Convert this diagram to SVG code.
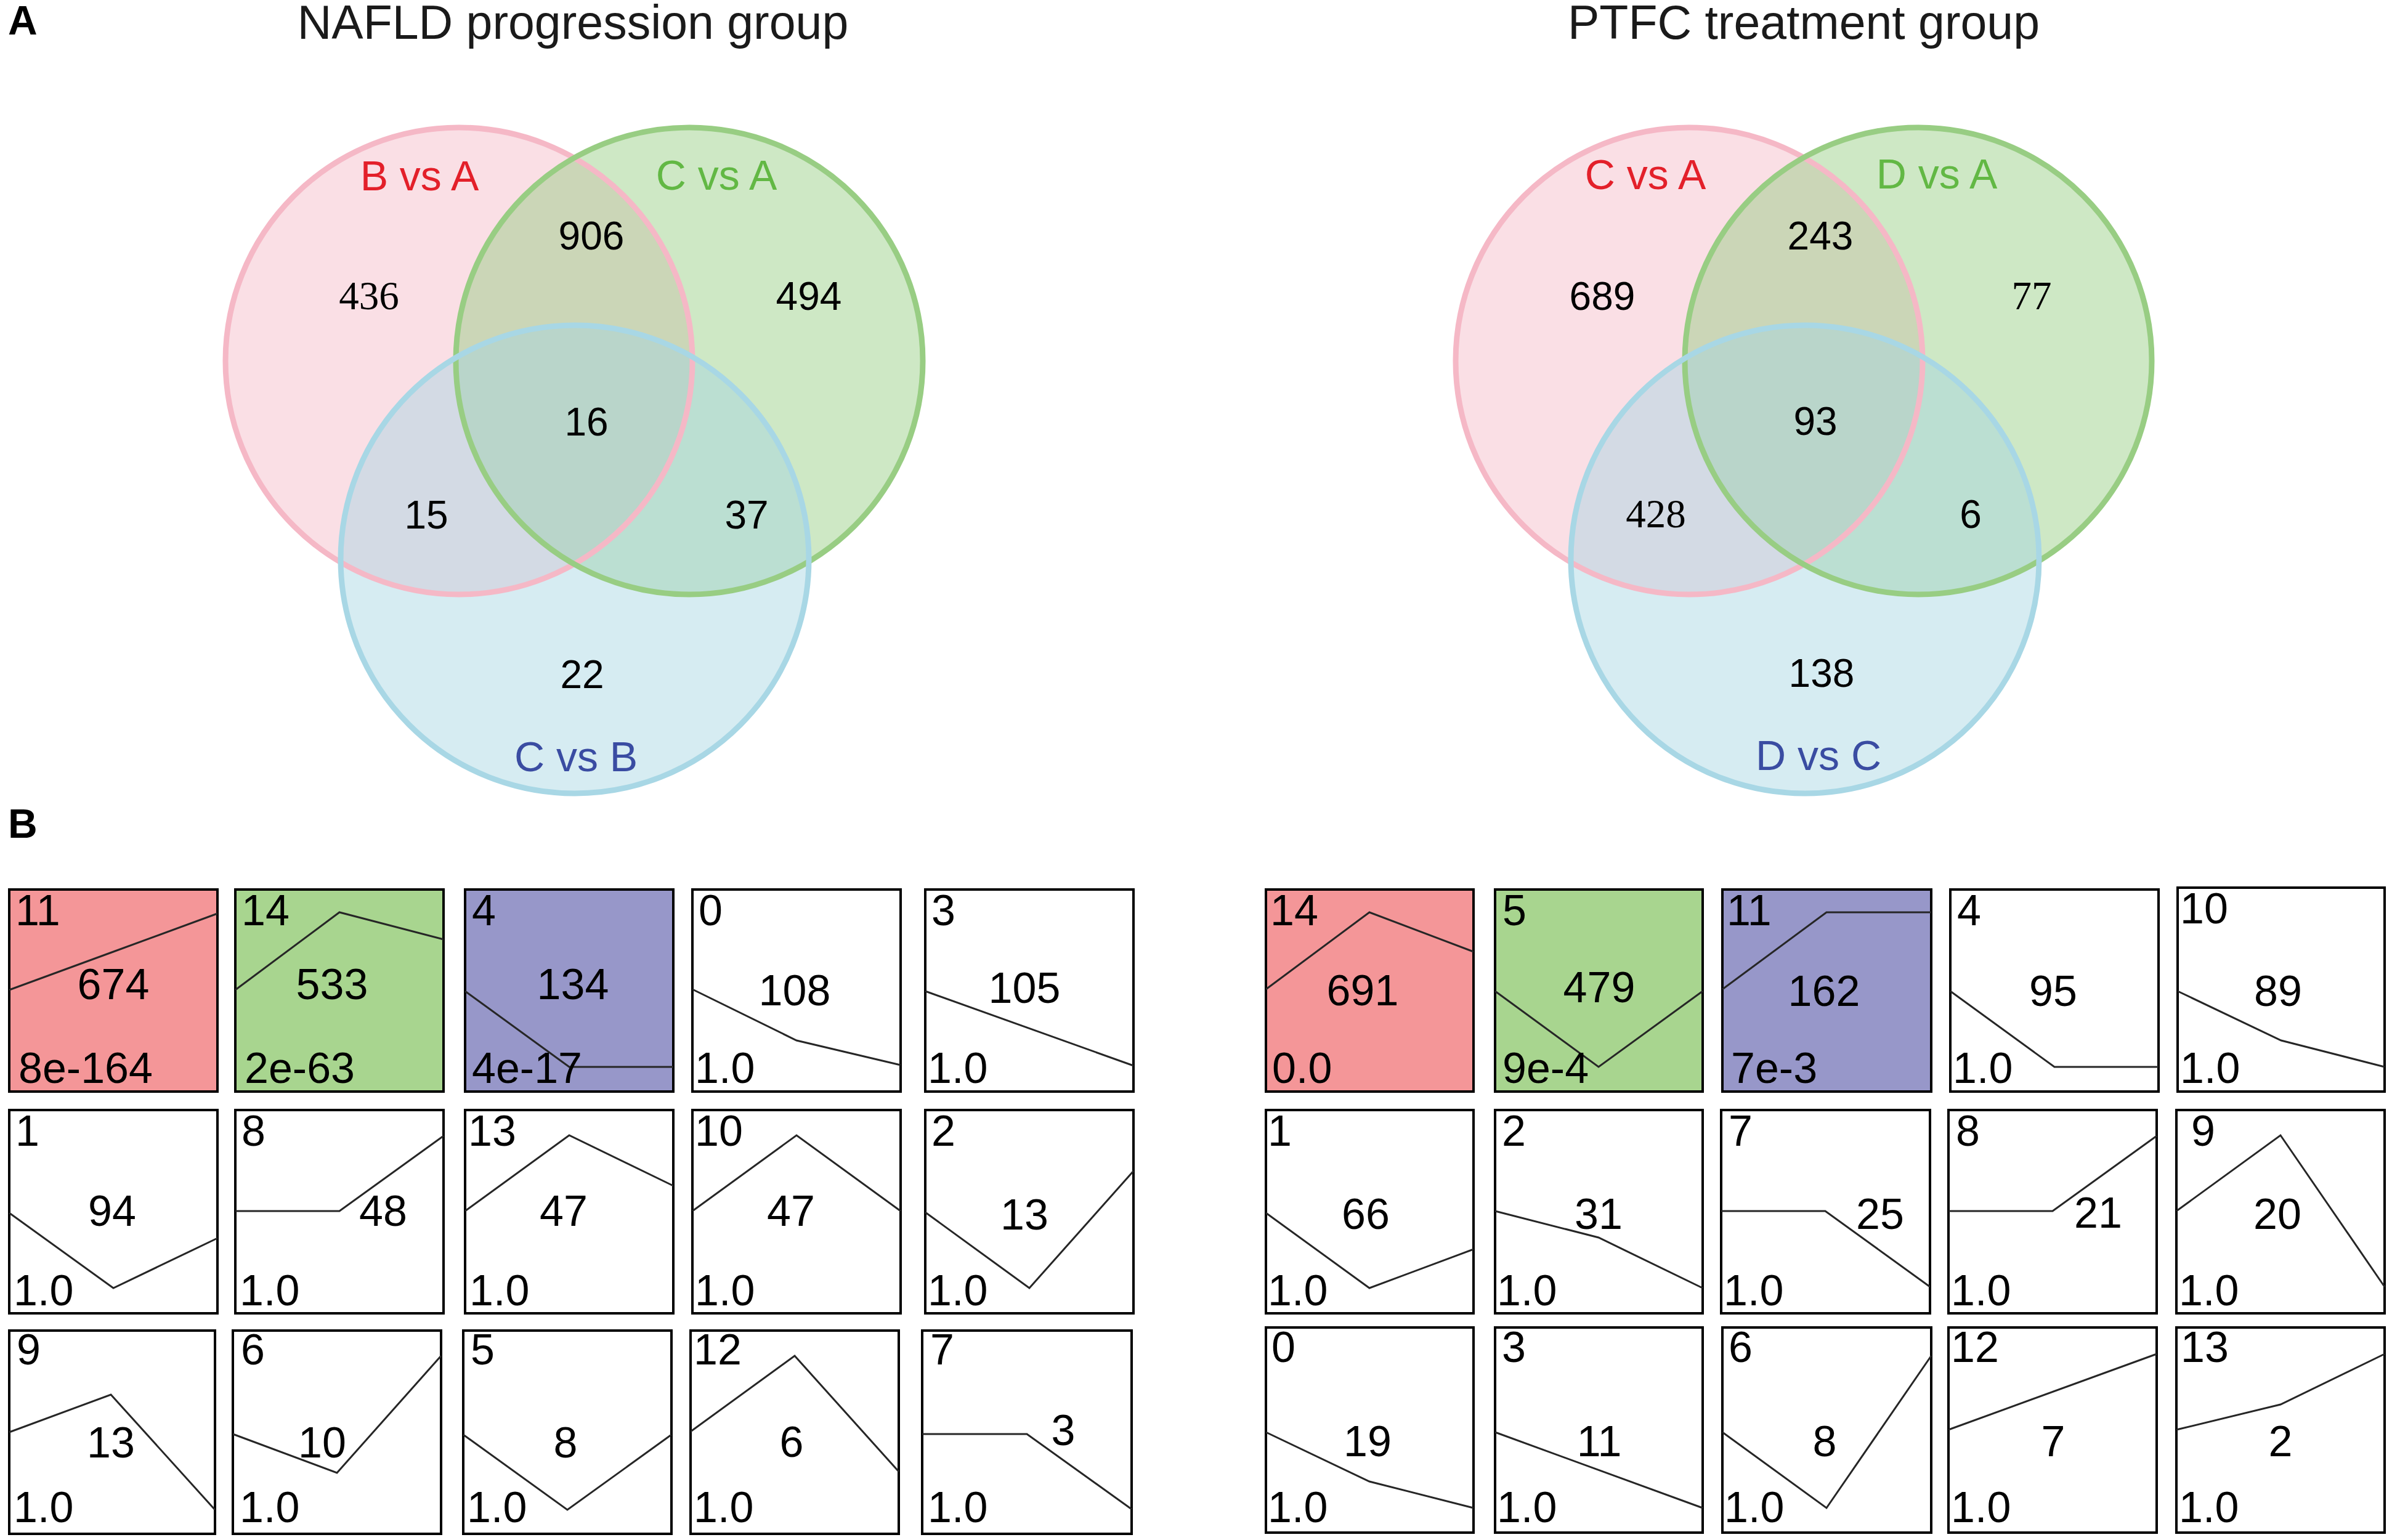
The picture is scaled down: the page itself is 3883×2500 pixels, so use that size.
<svg xmlns="http://www.w3.org/2000/svg" width="3883" height="2500" viewBox="0 0 3883 2500">
<style>
text{font-family:"Liberation Sans",Arial,Helvetica,sans-serif}
.title{font-size:77px;fill:#1a1a1a;text-anchor:middle}
.plab{font-size:66px;font-weight:bold;fill:#000}
.num{font-size:64px;fill:#000;text-anchor:middle}
.nums{font-family:"Liberation Serif","Times New Roman",serif;font-size:65px;fill:#000;text-anchor:middle}
.lab{font-size:68px;text-anchor:middle}
.red{fill:#e3202a}.grn{fill:#62b844}.blu{fill:#3a4ca2}
.fp{fill:#f5b7c5;fill-opacity:.45}.fg{fill:#92cc7e;fill-opacity:.45}.fb{fill:#a4d5e2;fill-opacity:.45}
.sp{fill:none;stroke:#f5b8c6;stroke-width:9}.sg{fill:none;stroke:#98cd83;stroke-width:9}.sb{fill:none;stroke:#a8d7e5;stroke-width:9}
.box{stroke:#000;stroke-width:4;fill:#fff}
.br{fill:#f49698}.bg{fill:#a8d58f}.bv{fill:#9797c9}
.prof{fill:none;stroke:#262626;stroke-width:3}
.bt{font-size:70px;fill:#000}
.bc{font-size:70px;fill:#000;text-anchor:middle}
</style>

<g id="panel-labels">
<text class="plab" x="13" y="56">A</text>
<text class="plab" x="13" y="1360">B</text>
</g>

<g id="venn-left">
<text class="title" x="930" y="63">NAFLD progression group</text>
<circle class="fp" cx="745" cy="586" r="379"/>
<circle class="fg" cx="1119" cy="586" r="379"/>
<circle class="fb" cx="933" cy="908" r="380"/>
<circle class="sp" cx="745" cy="586" r="379"/>
<circle class="sg" cx="1119" cy="586" r="379"/>
<circle class="sb" cx="933" cy="908" r="380"/>
<text class="lab red" x="681" y="309">B vs A</text>
<text class="lab grn" x="1163" y="308">C vs A</text>
<text class="lab blu" x="935" y="1252">C vs B</text>
<text class="nums" x="599" y="502">436</text>
<text class="num" x="960" y="405">906</text>
<text class="num" x="1313" y="503">494</text>
<text class="num" x="952" y="707">16</text>
<text class="num" x="692" y="858">15</text>
<text class="num" x="1212" y="858">37</text>
<text class="num" x="945" y="1117">22</text>
</g>

<g id="venn-right">
<text class="title" x="2928" y="63">PTFC treatment group</text>
<circle class="fp" cx="2742" cy="586" r="379"/>
<circle class="fg" cx="3114" cy="586" r="379"/>
<circle class="fb" cx="2930" cy="908" r="380"/>
<circle class="sp" cx="2742" cy="586" r="379"/>
<circle class="sg" cx="3114" cy="586" r="379"/>
<circle class="sb" cx="2930" cy="908" r="380"/>
<text class="lab red" x="2671" y="307">C vs A</text>
<text class="lab grn" x="3144" y="306">D vs A</text>
<text class="lab blu" x="2952" y="1250">D vs C</text>
<text class="num" x="2601" y="503">689</text>
<text class="num" x="2955" y="405">243</text>
<text class="nums" x="3298" y="502">77</text>
<text class="num" x="2947" y="706">93</text>
<text class="nums" x="2688" y="856">428</text>
<text class="num" x="3199" y="857">6</text>
<text class="num" x="2957" y="1115">138</text>
</g>

<g id="clusters-left">
<g id="L-11"><rect class="box br" x="15" y="1444" width="338" height="328"/><polyline class="prof" points="15,1607 184,1545 353,1483"/><text class="bt" x="25" y="1502">11</text><text class="bc" x="184" y="1622">674</text><text class="bt" x="30" y="1758">8e-164</text></g>
<g id="L-14"><rect class="box bg" x="382" y="1444" width="338" height="328"/><polyline class="prof" points="382,1607 551,1481 720,1525"/><text class="bt" x="392" y="1502">14</text><text class="bc" x="539" y="1622">533</text><text class="bt" x="397" y="1758">2e-63</text></g>
<g id="L-4"><rect class="box bv" x="755" y="1444" width="338" height="328"/><polyline class="prof" points="755,1609 924,1732 1093,1732"/><text class="bt" x="766" y="1502">4</text><text class="bc" x="930" y="1622">134</text><text class="bt" x="766" y="1758">4e-17</text></g>
<g id="L-0"><rect class="box" x="1124" y="1444" width="338" height="328"/><polyline class="prof" points="1124,1606 1293,1689 1462,1729"/><text class="bt" x="1134" y="1502">0</text><text class="bc" x="1290" y="1632">108</text><text class="bt" x="1128" y="1758">1.0</text></g>
<g id="L-3"><rect class="box" x="1502" y="1444" width="338" height="328"/><polyline class="prof" points="1502,1609 1840,1730"/><text class="bt" x="1512" y="1502">3</text><text class="bc" x="1663" y="1628">105</text><text class="bt" x="1506" y="1758">1.0</text></g>

<g id="L-1"><rect class="box" x="15" y="1802" width="338" height="330"/><polyline class="prof" points="15,1969 184,2091 353,2010"/><text class="bt" x="25" y="1860">1</text><text class="bc" x="182" y="1990">94</text><text class="bt" x="22" y="2119">1.0</text></g>
<g id="L-8"><rect class="box" x="382" y="1802" width="338" height="330"/><polyline class="prof" points="382,1966 551,1966 720,1844"/><text class="bt" x="392" y="1860">8</text><text class="bc" x="622" y="1990">48</text><text class="bt" x="389" y="2119">1.0</text></g>
<g id="L-13"><rect class="box" x="755" y="1802" width="338" height="330"/><polyline class="prof" points="755,1966 924,1843 1093,1925"/><text class="bt" x="760" y="1860">13</text><text class="bc" x="915" y="1990">47</text><text class="bt" x="762" y="2119">1.0</text></g>
<g id="L-10"><rect class="box" x="1124" y="1802" width="338" height="330"/><polyline class="prof" points="1124,1966 1293,1843 1462,1966"/><text class="bt" x="1128" y="1860">10</text><text class="bc" x="1284" y="1990">47</text><text class="bt" x="1128" y="2119">1.0</text></g>
<g id="L-2"><rect class="box" x="1502" y="1802" width="338" height="330"/><polyline class="prof" points="1502,1968 1671,2091 1840,1901"/><text class="bt" x="1512" y="1860">2</text><text class="bc" x="1663" y="1996">13</text><text class="bt" x="1506" y="2119">1.0</text></g>

<g id="L-9"><rect class="box" x="15" y="2160" width="334" height="330"/><polyline class="prof" points="15,2325 180,2264 349,2451"/><text class="bt" x="27" y="2215">9</text><text class="bc" x="180" y="2366">13</text><text class="bt" x="22" y="2471">1.0</text></g>
<g id="L-6"><rect class="box" x="378" y="2160" width="338" height="330"/><polyline class="prof" points="378,2328 547,2391 716,2201"/><text class="bt" x="391" y="2215">6</text><text class="bc" x="523" y="2366">10</text><text class="bt" x="389" y="2471">1.0</text></g>
<g id="L-5"><rect class="box" x="752" y="2160" width="338" height="330"/><polyline class="prof" points="752,2329 921,2451 1090,2329"/><text class="bt" x="764" y="2215">5</text><text class="bc" x="918" y="2366">8</text><text class="bt" x="758" y="2471">1.0</text></g>
<g id="L-12"><rect class="box" x="1121" y="2160" width="338" height="330"/><polyline class="prof" points="1121,2324 1290,2201 1459,2389"/><text class="bt" x="1126" y="2215">12</text><text class="bc" x="1285" y="2365">6</text><text class="bt" x="1126" y="2471">1.0</text></g>
<g id="L-7"><rect class="box" x="1497" y="2160" width="340" height="330"/><polyline class="prof" points="1497,2328 1667,2328 1837,2450"/><text class="bt" x="1510" y="2215">7</text><text class="bc" x="1726" y="2346">3</text><text class="bt" x="1506" y="2471">1.0</text></g>
</g>

<g id="clusters-right">
<g id="R-14"><rect class="box br" x="2055" y="1444" width="337" height="328"/><polyline class="prof" points="2055,1606 2223,1481 2392,1545"/><text class="bt" x="2062" y="1502">14</text><text class="bc" x="2212" y="1632">691</text><text class="bt" x="2065" y="1758">0.0</text></g>
<g id="R-5"><rect class="box bg" x="2427" y="1444" width="337" height="328"/><polyline class="prof" points="2427,1609 2595,1732 2764,1609"/><text class="bt" x="2439" y="1502">5</text><text class="bc" x="2596" y="1627">479</text><text class="bt" x="2439" y="1758">9e-4</text></g>
<g id="R-11"><rect class="box bv" x="2796" y="1444" width="339" height="328"/><polyline class="prof" points="2796,1606 2965,1481 3135,1481"/><text class="bt" x="2803" y="1502">11</text><text class="bc" x="2961" y="1633">162</text><text class="bt" x="2810" y="1758">7e-3</text></g>
<g id="R-4"><rect class="box" x="3166" y="1444" width="338" height="328"/><polyline class="prof" points="3166,1609 3335,1732 3504,1732"/><text class="bt" x="3177" y="1502">4</text><text class="bc" x="3333" y="1633">95</text><text class="bt" x="3170" y="1758">1.0</text></g>
<g id="R-10"><rect class="box" x="3535" y="1441" width="336" height="331"/><polyline class="prof" points="3535,1609 3703,1689 3871,1732"/><text class="bt" x="3539" y="1499">10</text><text class="bc" x="3698" y="1633">89</text><text class="bt" x="3539" y="1758">1.0</text></g>

<g id="R-1"><rect class="box" x="2055" y="1802" width="337" height="330"/><polyline class="prof" points="2055,1969 2223,2091 2392,2028"/><text class="bt" x="2058" y="1860">1</text><text class="bc" x="2217" y="1995">66</text><text class="bt" x="2058" y="2119">1.0</text></g>
<g id="R-2"><rect class="box" x="2427" y="1802" width="337" height="330"/><polyline class="prof" points="2427,1966 2595,2009 2764,2091"/><text class="bt" x="2438" y="1860">2</text><text class="bc" x="2595" y="1995">31</text><text class="bt" x="2430" y="2119">1.0</text></g>
<g id="R-7"><rect class="box" x="2794" y="1802" width="339" height="330"/><polyline class="prof" points="2794,1966 2963,1966 3133,2089"/><text class="bt" x="2806" y="1860">7</text><text class="bc" x="3052" y="1995">25</text><text class="bt" x="2798" y="2119">1.0</text></g>
<g id="R-8"><rect class="box" x="3163" y="1802" width="338" height="330"/><polyline class="prof" points="3163,1966 3332,1966 3501,1844"/><text class="bt" x="3175" y="1860">8</text><text class="bc" x="3406" y="1993">21</text><text class="bt" x="3167" y="2119">1.0</text></g>
<g id="R-9"><rect class="box" x="3533" y="1802" width="338" height="330"/><polyline class="prof" points="3533,1966 3702,1843 3871,2089"/><text class="bt" x="3557" y="1860">9</text><text class="bc" x="3697" y="1995">20</text><text class="bt" x="3537" y="2119">1.0</text></g>

<g id="R-0"><rect class="box" x="2055" y="2155" width="337" height="333"/><polyline class="prof" points="2055,2325 2223,2405 2392,2448"/><text class="bt" x="2064" y="2211">0</text><text class="bc" x="2220" y="2364">19</text><text class="bt" x="2058" y="2471">1.0</text></g>
<g id="R-3"><rect class="box" x="2427" y="2155" width="337" height="333"/><polyline class="prof" points="2427,2325 2764,2448"/><text class="bt" x="2438" y="2211">3</text><text class="bc" x="2596" y="2364">11</text><text class="bt" x="2430" y="2471">1.0</text></g>
<g id="R-6"><rect class="box" x="2796" y="2155" width="339" height="333"/><polyline class="prof" points="2796,2325 2965,2448 3135,2201"/><text class="bt" x="2806" y="2211">6</text><text class="bc" x="2962" y="2364">8</text><text class="bt" x="2799" y="2471">1.0</text></g>
<g id="R-12"><rect class="box" x="3163" y="2155" width="338" height="333"/><polyline class="prof" points="3163,2321 3501,2198"/><text class="bt" x="3167" y="2211">12</text><text class="bc" x="3333" y="2364">7</text><text class="bt" x="3167" y="2471">1.0</text></g>
<g id="R-13"><rect class="box" x="3533" y="2155" width="338" height="333"/><polyline class="prof" points="3533,2321 3702,2280 3871,2198"/><text class="bt" x="3540" y="2211">13</text><text class="bc" x="3702" y="2364">2</text><text class="bt" x="3537" y="2471">1.0</text></g>
</g>

<g id="connectors"></g>
</svg>
